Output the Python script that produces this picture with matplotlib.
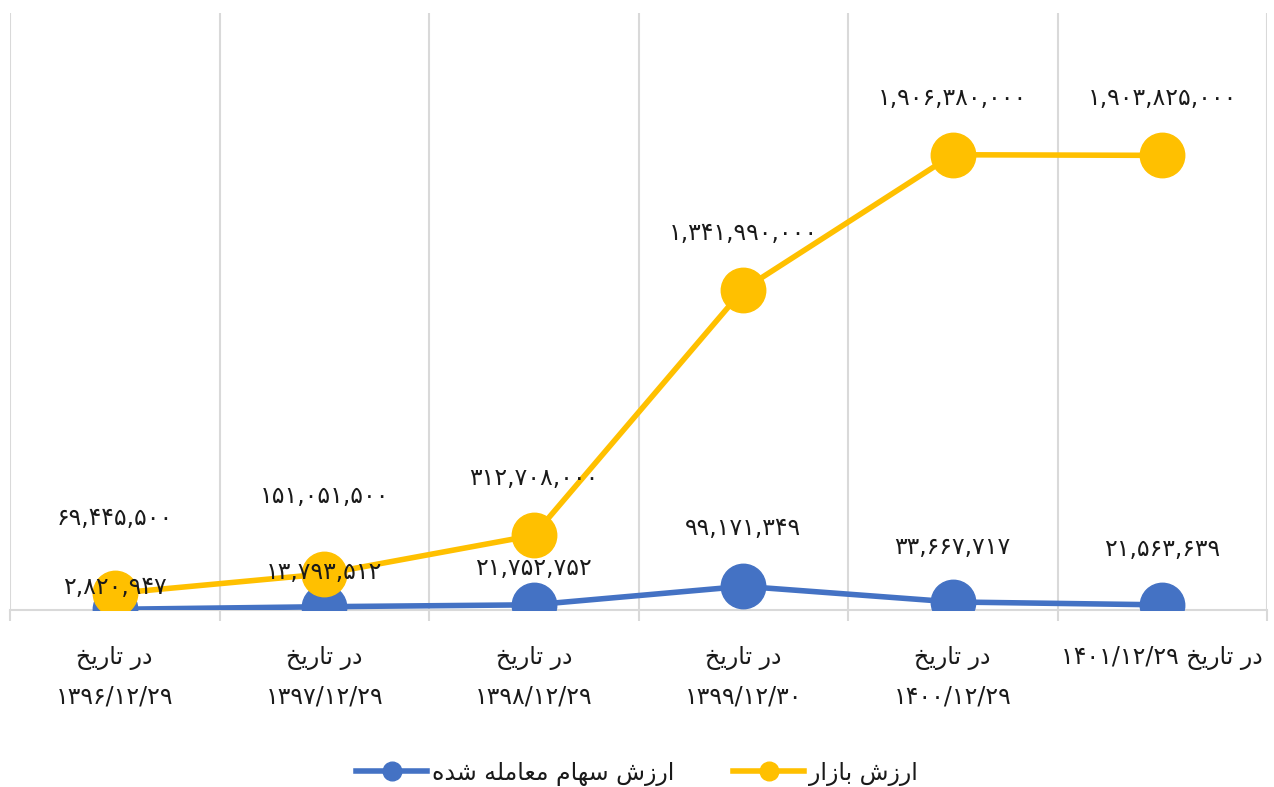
import numpy as np
import matplotlib.pyplot as plt

# data
dates = ['1396/12/29', '1397/12/29', '1398/12/29', '1399/12/30', '1400/12/29', '1401/12/29']
traded = [2820947, 13793512, 21752752, 99171349, 33667717, 21563639]
market = [69445500, 151051500, 312708000, 1341990000, 1906380000, 1903825000]

# persian text already in visual (shaped, left-to-right) order
DAR_TARIKH = '\uFEA6\uFEF3\uFEAD\uFE8E\uFE97 \uFEAD\uFEA9'
LBL_MARKET = '\uFEAD\uFE8D\uFEAF\uFE8E\uFE91 \uFEB5\uFEAF\uFEAD\uFE8D'
LBL_TRADED = ('\uFEE9\uFEAA\uFEB7 \uFEEA\uFEE0\uFEE3\uFE8E\uFECC\uFEE3 '
              '\uFEE1\uFE8E\uFEEC\uFEB3 \uFEB5\uFEAF\uFEAD\uFE8D')

FA = str.maketrans('0123456789', '\u06F0\u06F1\u06F2\u06F3\u06F4\u06F5\u06F6\u06F7\u06F8\u06F9')

def fa(s):
    return str(s).translate(FA)

BLUE = '#4472C4'
GOLD = '#FFC000'
GRID = '#D9D9D9'
TXT = '#1a1a1a'
FS = 17

plt.rcParams['font.family'] = ['DejaVu Sans']

fig = plt.figure(figsize=(12.74, 7.87), dpi=100)
W, H = 1274, 787
ax = fig.add_axes([10 / W, 1 - 610 / H, 1257 / W, 597 / H])

x = np.arange(len(dates))
ax.plot(x, traded, color=BLUE, lw=4, marker='o', ms=32, label=LBL_TRADED, zorder=3)
ax.plot(x, market, color=GOLD, lw=4, marker='o', ms=32, label=LBL_MARKET, zorder=4)

ax.set_xlim(-0.5, len(dates) - 0.5)
ax.set_ylim(0, 2.5e9)

for s in ['top', 'right', 'left']:
    ax.spines[s].set_visible(False)
ax.spines['bottom'].set_color(GRID)
ax.spines['bottom'].set_linewidth(1.5)
ax.set_yticks([])

ax.set_xticks(np.arange(-0.5, len(dates)), minor=True)
ax.grid(True, axis='x', which='minor', color=GRID, lw=1.5)
ax.tick_params(axis='x', which='minor', length=8, width=1.5, color=GRID, direction='out')
ax.set_xticks(x)
ax.set_xticklabels([])
ax.tick_params(axis='x', which='major', length=0)

# category labels
for i, d in enumerate(dates):
    if i == len(dates) - 1:
        ax.annotate(fa(d) + ' ' + DAR_TARIKH, (i, 0), xytext=(0, -48), textcoords='offset pixels',
                    ha='center', va='center', fontsize=FS, color=TXT)
    else:
        ax.annotate(DAR_TARIKH, (i, 0), xytext=(0, -48), textcoords='offset pixels',
                    ha='center', va='center', fontsize=FS, color=TXT)
        ax.annotate(fa(d), (i, 0), xytext=(0, -87), textcoords='offset pixels',
                    ha='center', va='center', fontsize=FS, color=TXT)

# data labels
mk_off = [75, 78, 57, 57, 57, 57]
tr_off = [22, 35, 37, 58, 55, 56]
for i in range(len(dates)):
    ax.annotate(fa(f'{market[i]:,}'), (x[i], market[i]), xytext=(0, mk_off[i]),
                textcoords='offset pixels', ha='center', va='center',
                fontsize=FS, color=TXT, zorder=6)
    ax.annotate(fa(f'{traded[i]:,}'), (x[i], traded[i]), xytext=(0, tr_off[i]),
                textcoords='offset pixels', ha='center', va='center',
                fontsize=FS, color=TXT, zorder=6)

leg = fig.legend(loc='center', bbox_to_anchor=(0.5, 1 - 773 / H), ncol=2, frameon=False,
                 fontsize=FS, markerscale=0.42, handlelength=3.0, columnspacing=2.5,
                 handletextpad=0.2)
for t in leg.get_texts():
    t.set_color(TXT)

fig.savefig('out.png', dpi=100)
